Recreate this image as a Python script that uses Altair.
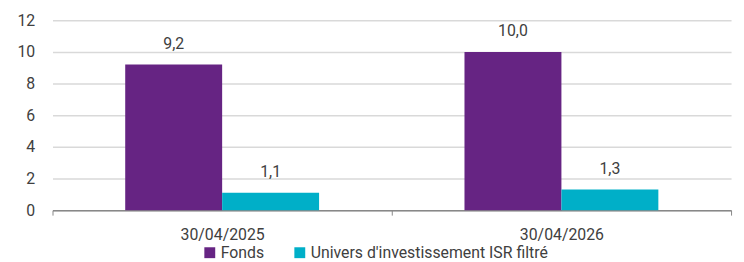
import altair as alt
import pandas as pd

dates = ["30/04/2025", "30/04/2026"]
series = ["Fonds", "Univers d'investissement ISR filtré"]
fonds = [9.2, 10.0]
univers = [1.1, 1.3]
colors = ["#662483", "#00AFC8"]
y_ticks = [0, 2, 4, 6, 8, 10, 12]

rows = []
for i, d in enumerate(dates):
    rows.append({"date": d, "serie": series[0], "v": fonds[i]})
    rows.append({"date": d, "serie": series[1], "v": univers[i]})
df = pd.DataFrame(rows)

FONT = "Roboto"
TXT = "#404040"

base = alt.Chart(df).encode(
    x=alt.X("date:N", sort=dates,
            scale=alt.Scale(paddingInner=0, paddingOuter=0),
            axis=alt.Axis(title=None, labelAngle=0, tickBand="extent",
                          tickSize=5, tickColor="#888888", domainColor="#888888",
                          domainWidth=1.5, labelPadding=12, labelFontSize=16,
                          labelColor=TXT, labelFont=FONT, grid=False)),
    xOffset=alt.XOffset("serie:N", sort=series,
                        scale=alt.Scale(paddingOuter=0.75, paddingInner=0)),
    y=alt.Y("v:Q", scale=alt.Scale(domain=[0, 12]),
            axis=alt.Axis(title=None, values=y_ticks, tickSize=0,
                          domain=False, labelPadding=18, labelFontSize=16,
                          labelOverlap=False,
                          labelColor=TXT, labelFont=FONT, gridColor="#d9d9d9",
                          gridWidth=1.5)),
)

bars = base.mark_bar().encode(
    color=alt.Color("serie:N", sort=series,
                    scale=alt.Scale(domain=series, range=colors),
                    legend=alt.Legend(title=None, orient="none", direction="horizontal",
                                      legendX=151, legendY=227, symbolType="square",
                                      symbolSize=121, symbolStrokeWidth=0,
                                      labelFontSize=16, labelColor=TXT, labelFont=FONT,
                                      labelLimit=0,
                                      labelOffset=3, columnPadding=28)),
)

labels = base.transform_calculate(
    lab="replace(format(datum.v, '.1f'), '.', ',')"
).mark_text(baseline="alphabetic", dy=-16, fontSize=16, font=FONT, color=TXT).encode(
    text="lab:N",
)

chart = alt.layer(bars, labels).properties(
    width=686, height=192,
    autosize=alt.AutoSizeParams(type="none"),
    padding={"left": 45, "top": 11, "right": 5, "bottom": 51},
).configure_view(stroke=None)

chart.save("out.html", embed_options={"renderer": "svg", "actions": False})
